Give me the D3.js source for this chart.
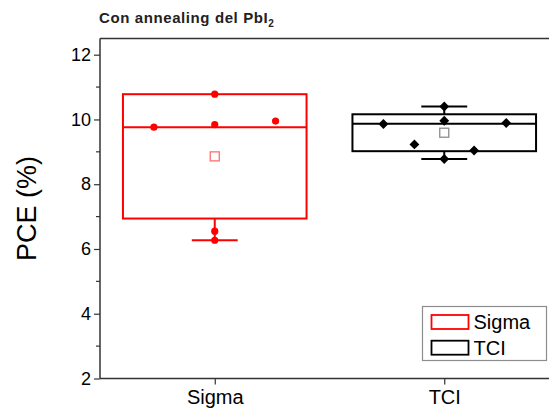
<!DOCTYPE html>
<html>
<head>
<meta charset="utf-8">
<script src="https://cdn.jsdelivr.net/npm/d3@7"></script>
<style>
  body { margin: 0; background: #fff; }
  svg { display: block; font-family: "Liberation Sans", Arial, sans-serif; }
</style>
</head>
<body>
<svg id="chart"></svg>
<script>
// data
const categories = ["Sigma", "TCI"];
const colors = ["#ff0000", "#000000"];
const meanColors = ["#ff6f6f", "#8c8c8c"];

const sigmaValues = [10.78, 9.76, 9.84, 9.95, 6.55, 6.27];
const sigmaJitter = [0, -0.265, 0, 0.265, 0, 0];
const tciValues = [10.40, 9.86, 9.96, 9.89, 9.23, 9.04, 8.78];
const tciJitter = [0, -0.265, 0, 0.27, -0.13, 0.13, 0];

const q1 = [6.94, 9.02];
const median = [9.76, 9.87];
const q3 = [10.78, 10.16];
const whiskerLow = [6.27, 8.78];
const whiskerHigh = [10.78, 10.40];
const means = [8.86, 9.59];

const yTicks = [2, 4, 6, 8, 10, 12];
const yMinorTicks = [3, 5, 7, 9, 11];

const width = 549, height = 412;
const margin = { top: 38.5, right: -10, bottom: 33.5, left: 100 };

const svg = d3.select("#chart")
  .attr("width", width)
  .attr("height", height);

const xScale = d3.scaleLinear()
  .domain([0.5, 2.5])
  .range([margin.left, width - margin.right]);

const yScale = d3.scaleLinear()
  .domain([2, 12.5])
  .range([height - margin.bottom, margin.top]);

const boxW = 0.8, capW = 0.1;

// frame
svg.append("line")
  .attr("x1", margin.left).attr("x2", width)
  .attr("y1", margin.top).attr("y2", margin.top)
  .attr("stroke", "#333").attr("stroke-width", 1.5);

// axes
const yAxis = d3.axisLeft(yScale).tickValues(yTicks).tickSize(6).tickPadding(3).tickFormat(d3.format("d"));
const yAxisGroup = svg.append("g")
  .attr("transform", `translate(${margin.left},0)`)
  .call(yAxis);
yAxisGroup.select(".domain").attr("d", `M0,${margin.top}V${height - margin.bottom}`);

svg.append("g")
  .attr("transform", `translate(${margin.left},0)`)
  .selectAll("line")
  .data(yMinorTicks)
  .join("line")
  .attr("x1", -4).attr("x2", 0)
  .attr("y1", d => yScale(d)).attr("y2", d => yScale(d))
  .attr("stroke", "#333").attr("stroke-width", 1.2);

const xAxis = d3.axisBottom(xScale)
  .tickValues([1, 2])
  .tickSize(6).tickPadding(5)
  .tickFormat(d => categories[d - 1]);
const xAxisGroup = svg.append("g")
  .attr("transform", `translate(0,${height - margin.bottom})`)
  .call(xAxis);
xAxisGroup.select(".domain").attr("d", `M${margin.left},0H${width}`);

[yAxisGroup, xAxisGroup].forEach(g => {
  g.select(".domain").attr("stroke", "#333").attr("stroke-width", 1.5);
  g.selectAll(".tick line").attr("stroke", "#333").attr("stroke-width", 1.2);
  g.selectAll("text")
    .attr("fill", "#000")
    .style("font-size", "18px")
    .style("font-family", "'Liberation Sans', Arial, sans-serif");
});
xAxisGroup.selectAll("text").style("font-size", "20px");

// axis title
svg.append("text")
  .attr("transform", `translate(36,${(margin.top + height - margin.bottom) / 2}) rotate(-90)`)
  .attr("text-anchor", "middle")
  .style("font-size", "27px")
  .text("PCE (%)");

// chart title
const title = svg.append("text")
  .attr("x", 99).attr("y", 23)
  .style("font-size", "15px")
  .style("font-weight", "bold")
  .style("letter-spacing", "0.6px")
  .attr("fill", "#222");
title.append("tspan").text("Con annealing del PbI");
title.append("tspan").attr("dy", 4).style("font-size", "10px").text("2");

// boxes
const groups = categories.map((c, i) => ({ i, x: i + 1 }));

const box = svg.append("g").selectAll("g")
  .data(groups)
  .join("g")
  .attr("stroke", d => colors[d.i])
  .attr("fill", "none")
  .attr("stroke-width", 2);

box.append("line")
  .attr("x1", d => xScale(d.x)).attr("x2", d => xScale(d.x))
  .attr("y1", d => yScale(whiskerLow[d.i])).attr("y2", d => yScale(q1[d.i]));
box.append("line")
  .attr("x1", d => xScale(d.x)).attr("x2", d => xScale(d.x))
  .attr("y1", d => yScale(whiskerHigh[d.i])).attr("y2", d => yScale(q3[d.i]));
box.filter(d => whiskerLow[d.i] < q1[d.i]).append("line")
  .attr("x1", d => xScale(d.x - capW)).attr("x2", d => xScale(d.x + capW))
  .attr("y1", d => yScale(whiskerLow[d.i])).attr("y2", d => yScale(whiskerLow[d.i]));
box.filter(d => whiskerHigh[d.i] > q3[d.i]).append("line")
  .attr("x1", d => xScale(d.x - capW)).attr("x2", d => xScale(d.x + capW))
  .attr("y1", d => yScale(whiskerHigh[d.i])).attr("y2", d => yScale(whiskerHigh[d.i]));

box.append("rect")
  .attr("x", d => xScale(d.x - boxW / 2))
  .attr("width", d => xScale(d.x + boxW / 2) - xScale(d.x - boxW / 2))
  .attr("y", d => yScale(q3[d.i]))
  .attr("height", d => yScale(q1[d.i]) - yScale(q3[d.i]));
box.append("line")
  .attr("x1", d => xScale(d.x - boxW / 2)).attr("x2", d => xScale(d.x + boxW / 2))
  .attr("y1", d => yScale(median[d.i])).attr("y2", d => yScale(median[d.i]));

// mean squares
svg.append("g").selectAll("rect")
  .data(groups)
  .join("rect")
  .attr("x", d => xScale(d.x) - 4.5)
  .attr("y", d => yScale(means[d.i]) - 4.5)
  .attr("width", 9).attr("height", 9)
  .attr("fill", "#fff")
  .attr("stroke", d => meanColors[d.i])
  .attr("stroke-width", 1.3);

// points
svg.append("g").selectAll("circle")
  .data(sigmaValues.map((v, k) => ({ v, dx: sigmaJitter[k] })))
  .join("circle")
  .attr("cx", d => xScale(1 + d.dx))
  .attr("cy", d => yScale(d.v))
  .attr("r", 3.6)
  .attr("fill", colors[0]);

const diamond = d3.symbol().type(d3.symbolDiamond2).size(62);
svg.append("g").selectAll("path")
  .data(tciValues.map((v, k) => ({ v, dx: tciJitter[k] })))
  .join("path")
  .attr("d", diamond)
  .attr("transform", d => `translate(${xScale(2 + d.dx)},${yScale(d.v)})`)
  .attr("fill", colors[1]);

// legend
const legend = svg.append("g").attr("transform", "translate(422.5,306.5)");
legend.append("rect")
  .attr("width", 124).attr("height", 54)
  .attr("fill", "#fff")
  .attr("stroke", "#8c8c8c").attr("stroke-width", 1.2);
const item = legend.selectAll("g.item")
  .data(categories)
  .join("g")
  .attr("class", "item")
  .attr("transform", (d, i) => `translate(9,${8.5 + i * 25.7})`);
item.append("rect")
  .attr("width", 37).attr("height", 14)
  .attr("fill", "none")
  .attr("stroke", (d, i) => colors[i])
  .attr("stroke-width", 1.8);
item.append("text")
  .attr("x", 42).attr("y", 14)
  .style("font-size", "20px")
  .text(d => d);
</script>
</body>
</html>
